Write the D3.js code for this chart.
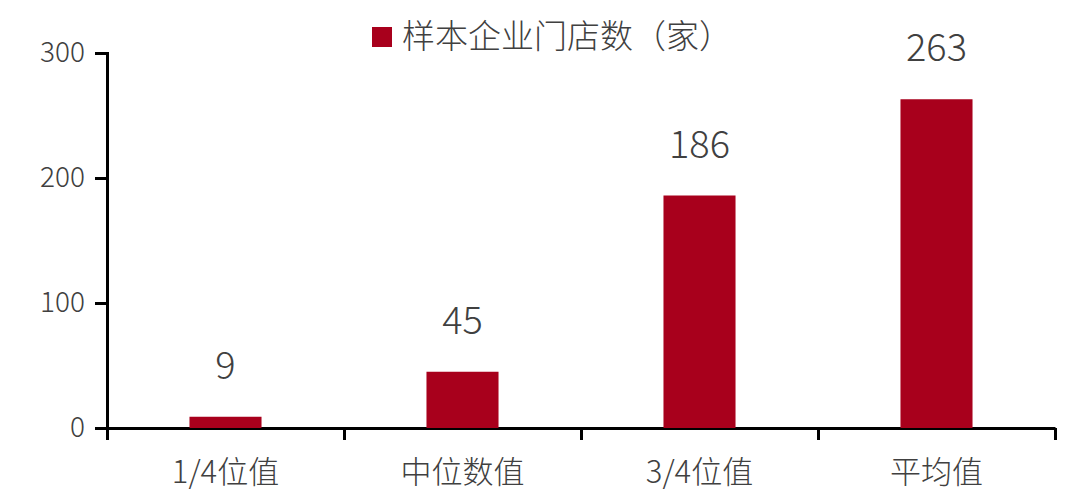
<!DOCTYPE html>
<html>
<head>
<meta charset="utf-8">
<script src="https://cdn.jsdelivr.net/npm/d3@7"></script>
<style>
  html, body { margin: 0; padding: 0; background: #fff; overflow: hidden; }
  svg { display: block; }
  text { font-family: "Noto Sans CJK SC", "Noto Sans", sans-serif; font-weight: 300; fill: #404040; }
</style>
</head>
<body>
<svg id="chart"></svg>
<script>
const categories = ['1/4位值', '中位数值', '3/4位值', '平均值'];
const storeCounts = [9, 45, 186, 263];
const yTicks = [0, 100, 200, 300];
const seriesName = '样本企业门店数（家）';

const width = 1092;
const height = 496;
const margin = { top: 53, right: 37, bottom: 68, left: 107 };
const innerWidth = width - margin.left - margin.right;
const innerHeight = height - margin.top - margin.bottom;
const barColor = '#a8001c';

const svg = d3.select('#chart')
  .attr('width', width)
  .attr('height', height);

const g = svg.append('g')
  .attr('transform', `translate(${margin.left}, ${margin.top})`);

const xScale = d3.scaleBand()
  .domain(categories)
  .range([0, innerWidth])
  .paddingInner(0.696)
  .paddingOuter(0.348);
const yScale = d3.scaleLinear().domain([0, 300]).range([innerHeight, 0]);

// y axis
const yAxis = g.append('g')
  .call(d3.axisLeft(yScale).tickValues(yTicks).tickSizeInner(12).tickSizeOuter(12).tickPadding(10));
yAxis.select('.domain').attr('stroke', '#000').attr('stroke-width', 3);
yAxis.selectAll('.tick line').attr('stroke', '#000').attr('stroke-width', 3);
yAxis.selectAll('.tick text')
  .attr('font-size', 28)
  .attr('font-family', '"Noto Sans CJK SC", "Noto Sans", sans-serif')
  .attr('fill', '#404040');

// x axis: ticks at band boundaries, labels drawn separately
const xBoundary = d3.scaleLinear().domain([0, categories.length]).range([0, innerWidth]);
const xAxis = g.append('g')
  .attr('transform', `translate(0, ${innerHeight})`)
  .call(d3.axisBottom(xBoundary).tickValues(d3.range(0, categories.length + 1)).tickSizeInner(12).tickSizeOuter(0));
xAxis.selectAll('.tick text').remove();
xAxis.select('.domain').attr('stroke', '#000').attr('stroke-width', 3);
xAxis.selectAll('.tick line').attr('stroke', '#000').attr('stroke-width', 3);

g.selectAll('.cat')
  .data(categories)
  .enter().append('text')
    .attr('class', 'cat')
    .attr('x', d => xScale(d) + xScale.bandwidth() / 2)
    .attr('y', innerHeight + 55)
    .attr('text-anchor', 'middle')
    .attr('font-size', 31)
    .text(d => d);

// bars
g.selectAll('.bar')
  .data(storeCounts)
  .enter().append('rect')
    .attr('class', 'bar')
    .attr('x', (d, i) => xScale(categories[i]))
    .attr('y', d => yScale(d))
    .attr('width', xScale.bandwidth())
    .attr('height', d => innerHeight - yScale(d))
    .attr('fill', barColor);

g.selectAll('.val')
  .data(storeCounts)
  .enter().append('text')
    .attr('class', 'val')
    .attr('x', (d, i) => xScale(categories[i]) + xScale.bandwidth() / 2)
    .attr('y', d => yScale(d) - 38)
    .attr('text-anchor', 'middle')
    .attr('font-size', 38)
    .text(d => d);

// legend
const legend = svg.append('g').attr('transform', 'translate(372, 27)');
legend.append('rect')
  .attr('width', 20)
  .attr('height', 20)
  .attr('fill', barColor);
legend.append('text')
  .attr('x', 30)
  .attr('y', 21)
  .attr('font-size', 33)
  .text(seriesName);
</script>
</body>
</html>
